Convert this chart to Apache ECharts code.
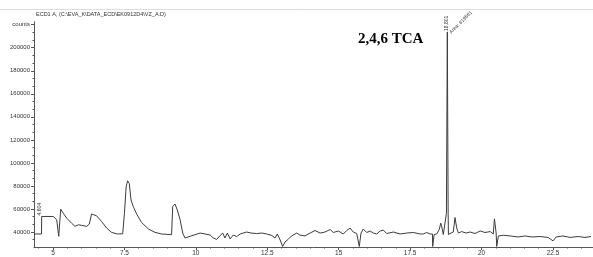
<!DOCTYPE html>
<html>
<head>
<meta charset="utf-8">
<script src="https://cdn.jsdelivr.net/npm/echarts@6/dist/echarts.min.js"></script>
<style>
html, body { margin: 0; padding: 0; background: #fff; }
#chart { width: 593px; height: 257px; }
</style>
</head>
<body>
<div id="chart"></div>
<script>
// retention time (min) and detector counts
var times = [4.335, 4.598, 4.604, 5.01, 5.13, 5.19, 5.20, 5.27, 5.36, 5.48, 5.65, 5.77, 5.89, 6.00, 6.18, 6.27, 6.35, 6.41, 6.53, 6.70,
    6.88, 7.05, 7.25, 7.44, 7.50, 7.56, 7.61, 7.67, 7.73, 7.81, 7.93, 8.10, 8.34, 8.57, 8.80, 9.15, 9.19, 9.27, 9.35, 9.45,
    9.54, 9.62, 9.80, 9.97, 10.15, 10.32, 10.50, 10.61, 10.73, 10.85, 10.94, 11.02, 11.10, 11.20, 11.31, 11.43, 11.55, 11.78, 11.93, 12.13,
    12.32, 12.48, 12.66, 12.77, 12.85, 12.95, 13.04, 13.12, 13.23, 13.35, 13.53, 13.64, 13.82, 14.00, 14.17, 14.35, 14.52, 14.70, 14.81, 14.99,
    15.16, 15.28, 15.40, 15.51, 15.63, 15.72, 15.78, 15.86, 15.98, 16.10, 16.21, 16.33, 16.45, 16.56, 16.68, 16.91, 17.15, 17.38, 17.61, 17.85,
    17.96, 18.08, 18.20, 18.28, 18.29, 18.34, 18.43, 18.52, 18.57, 18.61, 18.66, 18.72, 18.77, 18.801, 18.83, 18.84, 18.93, 19.01, 19.07, 19.13,
    19.19, 19.30, 19.46, 19.60, 19.77, 19.95, 20.12, 20.30, 20.41, 20.45, 20.51, 20.53, 20.59, 20.76, 21.00, 21.28, 21.52, 21.77, 22.05, 22.33,
    22.50, 22.61, 22.85, 23.10, 23.38, 23.62, 23.83];
var counts = [38300, 38300, 53500, 53500, 50600, 50300, 36300, 59800, 56300, 52000, 47700, 44900, 46300, 45800, 44900, 46900, 55700, 56900, 54000, 49200,
    43400, 39700, 38300, 38500, 56300, 79300, 84500, 82100, 67800, 62100, 55500, 48300, 42600, 39700, 38300, 37700, 62100, 64300, 59200, 50600,
    39100, 34800, 36300, 37700, 39100, 38300, 37400, 34800, 33600, 37000, 39100, 34800, 39100, 34000, 37400, 36100, 38300, 40000, 39100, 38700,
    39100, 38300, 37000, 34800, 38300, 33100, 27500, 31400, 33600, 36600, 39100, 37400, 36600, 39100, 41300, 39100, 40000, 42200, 39600, 40900,
    38300, 41300, 43400, 40000, 38700, 27500, 39100, 42600, 39600, 40900, 39100, 38300, 40900, 41700, 38700, 40000, 38300, 39100, 39600, 38300,
    38300, 39600, 38300, 38300, 27500, 37800, 38300, 42200, 47700, 44300, 37800, 39100, 56300, 213700, 56300, 37800, 39100, 40000, 52600, 43400,
    39100, 40400, 39100, 40000, 38700, 40900, 39600, 40400, 38300, 51400, 39100, 27500, 36600, 37200, 36600, 35700, 36600, 35700, 36100, 35300,
    32300, 35700, 36600, 35300, 36100, 35300, 36100];

var xTicks = [5, 7.5, 10, 12.5, 15, 17.5, 20, 22.5];
var xMinorTicks = [4.5, 5.5, 6, 6.5, 7, 8, 8.5, 9, 9.5, 10.5, 11, 11.5, 12, 13, 13.5, 14, 14.5, 15.5, 16, 16.5, 17,
    18, 18.5, 19, 19.5, 20.5, 21, 21.5, 22, 23, 23.5];
var yTicks = [40000, 60000, 80000, 100000, 120000, 140000, 160000, 180000, 200000, 220000];
var yMinorTicks = [33333, 46667, 53333, 66667, 73333, 86667, 93333, 106667, 113333, 126667, 133333,
    146667, 153333, 166667, 173333, 186667, 193333, 206667, 213333];

var peaks = [
    {time: 18.801, top: 213700, name: '18.801', area: 'Area: 619561'}
];
var startMark = {time: 4.604, top: 53500, name: '4.604'};

var fontFamily = 'Liberation Sans, Arial, sans-serif';
var axisColor = '#555';

var chart = echarts.init(document.getElementById('chart'));

var points = times.map(function (t, i) { return [t, counts[i]]; });

chart.setOption({
    animation: false,
    backgroundColor: '#fff',
    grid: {left: 34, right: 0, top: 21.8, bottom: 7.9},
    xAxis: [{
        type: 'value',
        min: 4.335,
        max: 23.9,
        axisLine: {show: true, lineStyle: {color: axisColor, width: 1}},
        axisTick: {show: true, customValues: xTicks, length: 3, lineStyle: {color: axisColor}},
        axisLabel: {
            customValues: xTicks,
            fontSize: 6.5,
            color: '#333',
            fontFamily: fontFamily,
            margin: 3
        },
        splitLine: {show: false}
    }, {
        type: 'value',
        position: 'bottom',
        min: 4.335,
        max: 23.9,
        axisLine: {show: false},
        axisTick: {show: true, customValues: xMinorTicks, length: 1.5, lineStyle: {color: axisColor}},
        axisLabel: {show: false},
        splitLine: {show: false}
    }],
    yAxis: [{
        type: 'value',
        min: 27000,
        max: 222500,
        axisLine: {show: true, lineStyle: {color: axisColor, width: 1}},
        axisTick: {show: true, customValues: yTicks, length: 3, lineStyle: {color: axisColor}},
        axisLabel: {
            customValues: yTicks,
            fontSize: 6,
            color: '#333',
            fontFamily: fontFamily,
            margin: 4,
            formatter: function (v) { return v === 220000 ? 'counts' : String(v); }
        },
        splitLine: {show: false}
    }, {
        type: 'value',
        position: 'left',
        min: 27000,
        max: 222500,
        axisLine: {show: false},
        axisTick: {show: true, customValues: yMinorTicks, length: 1.5, lineStyle: {color: axisColor}},
        axisLabel: {show: false},
        splitLine: {show: false}
    }],
    series: [{
        type: 'line',
        data: points,
        showSymbol: false,
        symbol: 'none',
        sampling: 'none',
        lineStyle: {color: '#3c3c3c', width: 1},
        silent: true
    }]
});

// annotations placed from data coordinates
var graphics = [
    {type: 'line', shape: {x1: 0, y1: 9.5, x2: 593, y2: 9.5}, style: {stroke: '#ddd', lineWidth: 1}},
    {type: 'text', x: 36, y: 14, style: {text: 'ECD1 A, (C:\\EVA_K\\DATA_ECD\\EK0912D4\\VZ_A.D)', fontSize: 5.5,
        fontFamily: fontFamily, fill: '#333', verticalAlign: 'middle'}},
    {type: 'text', x: 358, y: 39, style: {text: '2,4,6 TCA', fontSize: 15, fontWeight: 'bold',
        fontFamily: 'Liberation Serif, Times New Roman, serif', fill: '#000', verticalAlign: 'middle'}}
];

peaks.forEach(function (p) {
    var pt = chart.convertToPixel({xAxisIndex: 0, yAxisIndex: 0}, [p.time, p.top]);
    graphics.push({type: 'text', x: pt[0] - 0.5, y: pt[1] - 1, rotation: Math.PI / 2,
        style: {text: p.name, fontSize: 5, fontFamily: fontFamily, fill: '#333', align: 'left', verticalAlign: 'middle'}});
    graphics.push({type: 'text', x: pt[0] + 3, y: pt[1] + 1, rotation: Math.PI / 4,
        style: {text: p.area, fontSize: 5, fontFamily: fontFamily, fill: '#333', align: 'left', verticalAlign: 'middle'}});
});

var sp = chart.convertToPixel({xAxisIndex: 0, yAxisIndex: 0}, [startMark.time, startMark.top]);
graphics.push({type: 'text', x: sp[0] - 2, y: sp[1] - 1, rotation: Math.PI / 2,
    style: {text: startMark.name, fontSize: 5, fontFamily: fontFamily, fill: '#333', align: 'left', verticalAlign: 'middle'}});

chart.setOption({graphic: graphics});
</script>
</body>
</html>
